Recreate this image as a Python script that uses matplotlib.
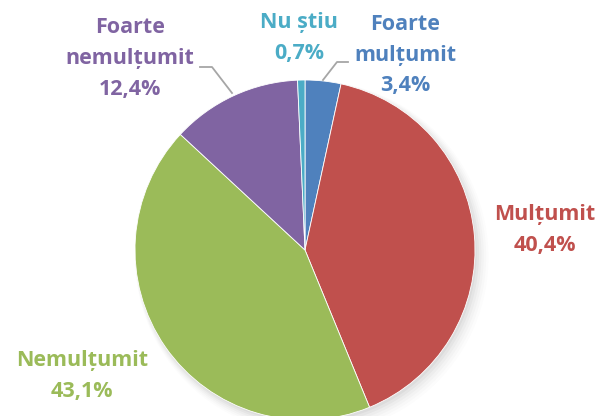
import numpy as np
import matplotlib.pyplot as plt
from matplotlib.patches import Circle

# data (clockwise from the top)
categories = ['Foarte\nmulțumit', 'Mulțumit', 'Nemulțumit', 'Foarte\nnemulțumit', 'Nu știu']
values = [3.4, 40.4, 43.1, 12.4, 0.7]
value_labels = ['3,4%', '40,4%', '43,1%', '12,4%', '0,7%']
colors = ['#4F81BD', '#C0504D', '#9BBB59', '#8064A2', '#4BACC6']

# label positions in data units (pie radius = 1)
label_pos = [(0.588, 1.147), (1.412, 0.118), (-1.312, -0.741), (-1.029, 1.124), (-0.035, 1.247)]

fig = plt.figure(figsize=(6.10, 4.16), dpi=100)
# pie centre at (305, 250) px, radius 170 px
ax = fig.add_axes([135 / 610, (416 - 420) / 416, 340 / 610, 340 / 416])
ax.set_xlim(-1, 1)
ax.set_ylim(-1, 1)
ax.set_aspect('equal')
ax.axis('off')

# soft shadow under the pie
for i, a in enumerate(np.linspace(0.035, 0.01, 6)):
    ax.add_patch(Circle((0.01 + 0.006 * i, -0.015 - 0.006 * i), 1.0 + 0.008 * i,
                        color='black', alpha=a, lw=0, zorder=0, clip_on=False))

wedges, _ = ax.pie(values, colors=colors, startangle=90, counterclock=False, radius=1,
                   wedgeprops=dict(edgecolor='white', linewidth=0.6), frame=False)
for w in wedges:
    w.set_clip_on(False)
    w.set_zorder(1)
ax.set_xlim(-1, 1)
ax.set_ylim(-1, 1)

for cat, lab, col, (x, y) in zip(categories, value_labels, colors, label_pos):
    ax.text(x, y, cat + '\n' + lab, ha='center', va='center', color=col,
            fontsize=15.5, fontweight='bold', family='Open Sans', linespacing=1.62,
            clip_on=False)

# leader lines
def px(x, y):
    return (x - 305) / 170, (250 - y) / 170

lines = [[(200, 67), (212, 67), (232, 93)],
         [(323, 80), (337, 62), (348, 62)]]
for pts in lines:
    xy = np.array([px(*p) for p in pts])
    ax.plot(xy[:, 0], xy[:, 1], color='#A6A6A6', lw=1.3, clip_on=False, zorder=2)

fig.savefig('out.png', dpi=100)
